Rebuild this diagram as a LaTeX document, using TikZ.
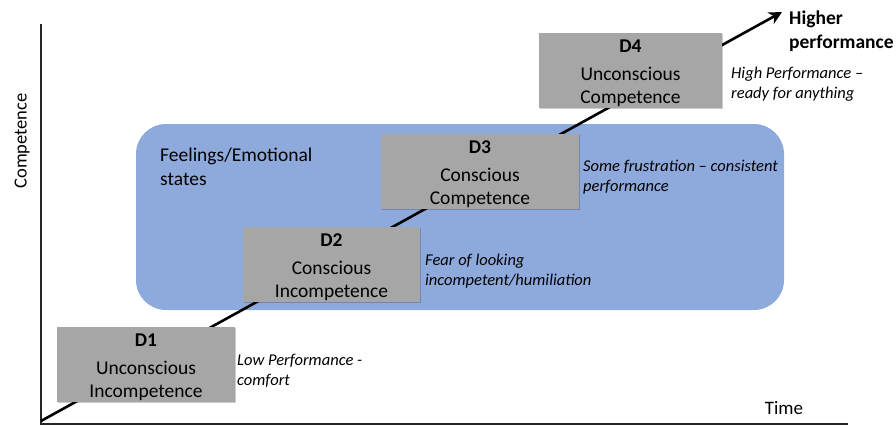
\documentclass[tikz,border=0pt]{standalone}
\usepackage{fontspec}
\setmainfont{Carlito}
\usetikzlibrary{arrows.meta,shadows}
\definecolor{boxgray}{HTML}{A6A6A6}
\definecolor{feelblue}{HTML}{8EA9DB}
\tikzset{
  stage/.style={fill=boxgray, draw=none, minimum width=#1, minimum height=75pt,
    inner sep=0pt, align=center, font=\fontsize{19.5}{22.5}\selectfont,
    drop shadow={shadow xshift=1.2pt, shadow yshift=-1.2pt, opacity=0.2, fill=black}},
  stagetext/.style={inner sep=0pt, align=center, font=\fontsize{19.5}{22.5}\selectfont},
  note/.style={anchor=west, align=left, inner sep=0pt,
    font=\fontsize{16.5}{20}\selectfont\itshape},
  axis/.style={line width=1.3pt, draw=black!85},
  path line/.style={line width=2.6pt, draw=black, -{Stealth[length=13pt,width=13pt]}}
}
\begin{document}
\begin{tikzpicture}[x=1pt,y=-1pt]
  \useasboundingbox (0,0) rectangle (896,428);

  % emotional-states panel
  \node (panel) [fill=feelblue, rounded corners=30pt, minimum width=648pt,
    minimum height=186pt, inner sep=0pt] at (460,217) {};
  \node (feel) [anchor=north west, align=left, inner sep=0pt,
    font=\fontsize{19.5}{24}\selectfont] at (160,148) {Feelings/Emotional\\states};

  % axes
  \coordinate (origin) at (41,424);
  \coordinate (ytop) at (41,24);
  \coordinate (xend) at (848,424);
  \draw[axis] (ytop) -- (origin) -- (xend);
  \node (ylabel) [rotate=90, font=\fontsize{18.5}{22}\selectfont] at (22,141) {Competence};
  \node (xlabel) [font=\fontsize{19}{22}\selectfont] at (784,408) {Time};

  % progression line
  \coordinate (start) at (41,421);
  \coordinate (tip) at (782,12);
  \draw[path line] (start) -- (tip);

  % stage boxes with their labels
  \node (d1) [stage=178pt] at (146,364.5) {};
  \node (d2) [stage=177pt] at (331.5,264.5) {};
  \node (d3) [stage=198pt] at (480,171.5) {};
  \node (d4) [stage=183pt] at (630.5,70.5) {};
  \node (t1) [stagetext] at ([yshift=-2.5pt]d1.center) {\textbf{D1}\\[6pt]Unconscious\\Incompetence};
  \node (t2) [stagetext] at ([yshift=-2.5pt]d2.center) {\textbf{D2}\\[6pt]Conscious\\Incompetence};
  \node (t3) [stagetext] at ([yshift=-2.5pt]d3.center) {\textbf{D3}\\[6pt]Conscious\\Competence};
  \node (t4) [stagetext] at ([yshift=-2.5pt]d4.center) {\textbf{D4}\\[6pt]Unconscious\\Competence};

  % notes
  \node (n1) [note] at (237,371) {Low Performance -\\comfort};
  \node (n2) [note] at (425,271) {Fear of looking\\incompetent/humiliation};
  \node (n3) [note] at (583,177) {Some frustration – consistent\\performance};
  \node (n4) [note] at (731,84) {High Performance –\\ready for anything};

  \node (goal) [anchor=west, align=left, inner sep=0pt,
    font=\fontsize{19.5}{24}\selectfont\bfseries] at (789,31) {Higher\\performance};
\end{tikzpicture}
\end{document}
